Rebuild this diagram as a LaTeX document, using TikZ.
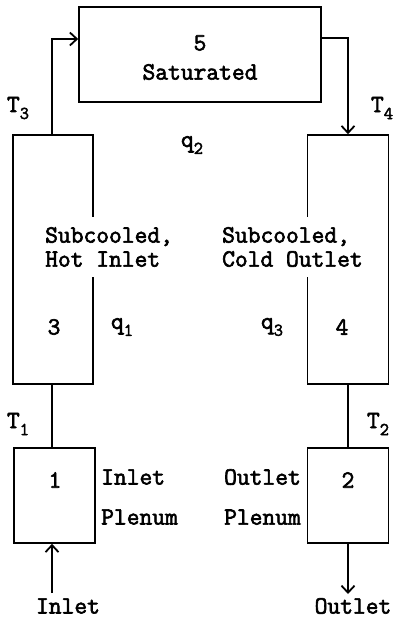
\documentclass[tikz,border=0pt]{standalone}
\usepackage{fontspec}
\setmonofont{Latin Modern Mono}[FakeBold=2.5]
\usetikzlibrary{arrows.meta}
\newcommand\sbs[1]{\raisebox{-0.28em}{\fontsize{18}{18}\selectfont #1}}
\begin{document}
\begin{tikzpicture}[x=1pt,y=-1pt,
  every node/.style={font=\fontsize{24.8}{24}\ttfamily},
  box/.style={draw,line width=1.6pt,inner sep=0pt},
  lnk/.style={line width=1.6pt},
  arr/.style={line width=1.6pt,-{Straight Barb[length=7pt,width=13pt,line width=1.8pt]}},
  lbl/.style={inner sep=0pt},
  wlbl/.style={fill=white,inner xsep=2pt,inner ysep=10pt,align=left}]
\useasboundingbox (0,0) rectangle (394,618);
% boxes
\node[box,minimum width=242pt,minimum height=95pt] (b5) at (200,54.5) {};
\node[box,minimum width=80pt,minimum height=249pt] (b3) at (53,259.5) {};
\node[box,minimum width=81pt,minimum height=249pt] (b4) at (348,259.5) {};
\node[box,minimum width=81pt,minimum height=95pt] (b1) at (54.5,495.5) {};
\node[box,minimum width=81pt,minimum height=95pt] (b2) at (348,495.5) {};
% texts in boxes
\node[lbl] (n5) at (200,43) {5};
\node[lbl] (sat) at (200,72) {Saturated};
\node[lbl] (n3) at (54,327) {3};
\node[lbl] (n4) at (342,327) {4};
\node[lbl] (n1) at (55,480) {1};
\node[lbl] (n2) at (348,480) {2};
% connectors
\coordinate (c3) at (52,135);
\draw[arr] (c3) |- ([yshift=15.5pt]b5.west);
\draw[arr] ([yshift=16.5pt]b5.east) -| (b4.north);
\draw[lnk] (52,384) coordinate (c3b) -- (c3b |- b1.north);
\draw[lnk] (b4.south) -- (b2.north);
\coordinate (inl) at (52,593);
\draw[arr] (inl) -- (inl |- b1.south);
\coordinate (outl) at (348,594);
\draw[arr] (b2.south) -- (outl);
% labels
\node[wlbl,anchor=west] (sub3) at (43,247) {Subcooled,\\Hot Inlet};
\node[wlbl,anchor=west] (sub4) at (220,247) {Subcooled,\\Cold Outlet};
\node[lbl,anchor=west,align=left] (ip) at (101,497) {Inlet\\[16pt]Plenum};
\node[lbl,anchor=east,align=right] (op) at (301,497) {Outlet\\[16pt]Plenum};
\node[lbl] (t3) at (18,108) {T\sbs{3}};
\node[lbl] (t4) at (382,108) {T\sbs{4}};
\node[lbl] (t1) at (18,424) {T\sbs{1}};
\node[lbl] (t2) at (378,424) {T\sbs{2}};
\node[lbl] (q2) at (192,145) {q\sbs{2}};
\node[lbl] (q1) at (122,327) {q\sbs{1}};
\node[lbl] (q3) at (272,327) {q\sbs{3}};
\node[lbl] (inlet) at (68,606) {Inlet};
\node[lbl] (outlet) at (353,606) {Outlet};
\end{tikzpicture}
\end{document}
